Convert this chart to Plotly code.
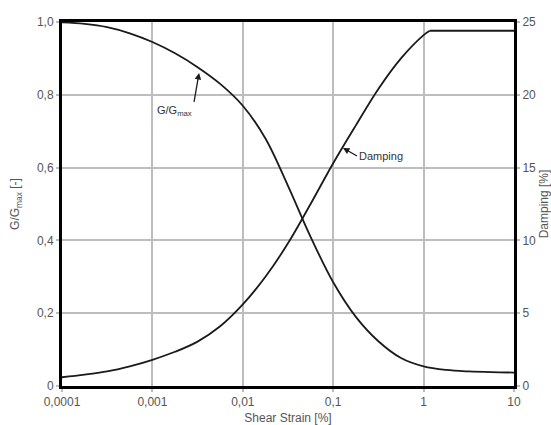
import plotly.graph_objects as go

# Modulus reduction curve: shear strain [%] vs G/Gmax [-]
g_strain = [0.0001, 0.000178, 0.000316, 0.000562, 0.001, 0.00178, 0.00316,
            0.00562, 0.01, 0.0178, 0.0316, 0.0562, 0.1, 0.178, 0.316, 0.562,
            1.0, 1.78, 3.16, 5.62, 10.0]
g_ratio = [0.999, 0.995, 0.986, 0.969, 0.945, 0.914, 0.876,
           0.83, 0.77, 0.68, 0.55, 0.41, 0.285, 0.19, 0.123, 0.077,
           0.054, 0.044, 0.04, 0.038, 0.037]

# Damping curve: shear strain [%] vs damping ratio [%]
d_strain = [0.0001, 0.000178, 0.000316, 0.000562, 0.001, 0.00178, 0.00316,
            0.00562, 0.01, 0.0178, 0.0316, 0.0562, 0.1, 0.178, 0.316, 0.562,
            1.0, 1.17]
d_ratio = [0.6, 0.78, 1.0, 1.35, 1.8, 2.35, 3.05,
           4.1, 5.6, 7.5, 9.8, 12.5, 15.3, 17.9, 20.4, 22.5,
           24.1, 24.4]
# Constant damping plateau beyond the knee
d_plateau_strain = [1.17, 10.0]
d_plateau_ratio = [24.4, 24.4]

x_ticks = [0.0001, 0.001, 0.01, 0.1, 1, 10]
x_labels = ["0,0001", "0,001", "0,01", "0,1", "1", "10"]
y_ticks = [0, 0.2, 0.4, 0.6, 0.8, 1.0]
y_labels = ["0", "0,2", "0,4", "0,6", "0,8", "1,0"]
y2_ticks = [0, 5, 10, 15, 20, 25]
y2_labels = ["0", "5", "10", "15", "20", "25"]

FONT = "Liberation Sans, Arial, sans-serif"
TICK_COLOR = "#555555"
GRID_COLOR = "#bdbdbd"
CURVE = dict(color="#1a1a1a", width=1.8)

fig = go.Figure()
fig.add_trace(go.Scatter(x=g_strain, y=g_ratio, mode="lines",
                         line=dict(shape="spline", smoothing=1.0, **CURVE),
                         showlegend=False, hoverinfo="skip"))
fig.add_trace(go.Scatter(x=d_strain, y=d_ratio, mode="lines", yaxis="y2",
                         line=dict(shape="spline", smoothing=1.0, **CURVE),
                         showlegend=False, hoverinfo="skip"))
fig.add_trace(go.Scatter(x=d_plateau_strain, y=d_plateau_ratio, mode="lines", yaxis="y2",
                         line=CURVE, showlegend=False, hoverinfo="skip"))

axis_common = dict(showline=True, linecolor="black", linewidth=3,
                   tickfont=dict(family=FONT, size=12, color=TICK_COLOR),
                   ticks="outside", ticklen=3, tickcolor=GRID_COLOR, tickwidth=1.5,
                   zeroline=False, automargin=False)
title_font = dict(family=FONT, size=12, color=TICK_COLOR)

fig.update_layout(
    width=551, height=425,
    margin=dict(l=62, r=37, t=22, b=39),
    paper_bgcolor="white", plot_bgcolor="white",
    font=dict(family=FONT, size=12, color=TICK_COLOR),
    xaxis=dict(type="log", range=[-4, 1], tickvals=x_ticks, ticktext=x_labels,
               mirror=True, showgrid=True, gridcolor=GRID_COLOR, gridwidth=1.5,
               title=dict(text="Shear Strain [%]", font=title_font),
               **axis_common),
    yaxis=dict(range=[0, 1], tickvals=y_ticks, ticktext=y_labels,
               mirror=True, showgrid=True, gridcolor=GRID_COLOR, gridwidth=1.5,
               title=dict(text="G/G<sub>max</sub> [-]", font=title_font),
               **axis_common),
    yaxis2=dict(range=[0, 25], tickvals=y2_ticks, ticktext=y2_labels,
                overlaying="y", side="right", showgrid=False,
                title=dict(text="Damping [%]", font=title_font),
                **axis_common),
)

# Curve labels with pointer arrows
label_font = dict(family=FONT, size=11, color="#333333")
fig.add_annotation(x=-2.484, y=0.86, xref="x", yref="y",
                   text="G/G<sub>max</sub>", font=label_font,
                   showarrow=True, arrowhead=2, arrowsize=1, arrowwidth=1.3,
                   arrowcolor="#1a1a1a", ax=-5, ay=29,
                   xanchor="right", yanchor="top")
fig.add_annotation(x=-0.892, y=16.35, xref="x", yref="y2",
                   text="Damping", font=label_font,
                   showarrow=True, arrowhead=2, arrowsize=1, arrowwidth=1.3,
                   arrowcolor="#1a1a1a", ax=14, ay=8,
                   xanchor="left", yanchor="middle")

fig.write_html("out.html")
